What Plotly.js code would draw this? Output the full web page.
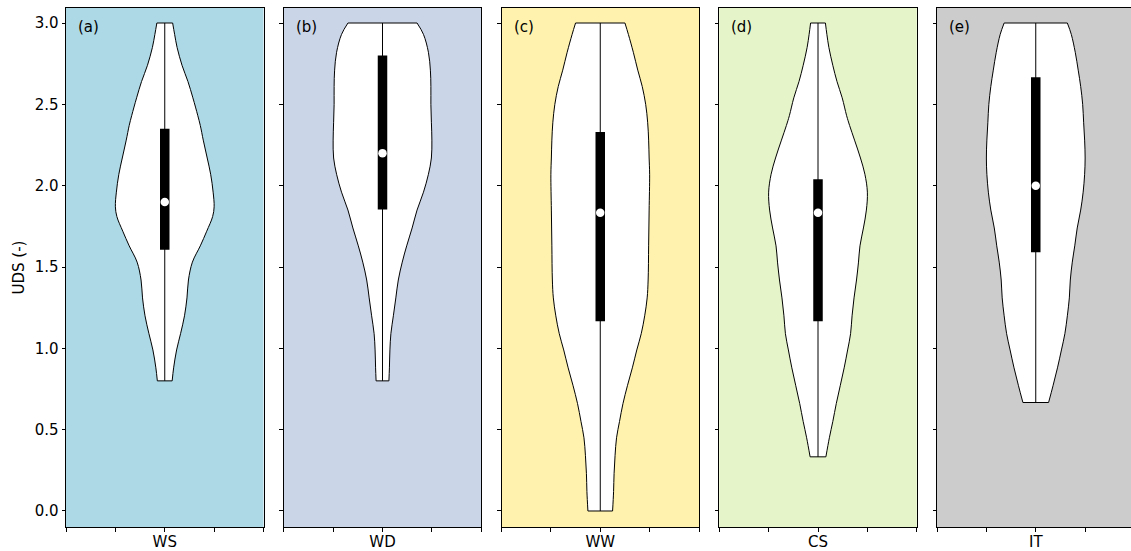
<!DOCTYPE html>
<html>
<head>
<meta charset="utf-8">
<script src="https://cdn.plot.ly/plotly-3.0.1.min.js"></script>
<style>html,body{margin:0;padding:0;background:#fff;}#chart{width:1131px;height:551px;}</style>
</head>
<body>
<div id="chart"></div>
<script>
// ---- data ----
const categories = ['WS', 'WD', 'WW', 'CS', 'IT'];
const panelLabels = ['(a)', '(b)', '(c)', '(d)', '(e)'];
const yTitle = 'UDS (-)';

// summary statistics (UDS)
const minVals = [0.80, 0.80, 0.00, 0.333, 0.667];
const maxVals = [3.00, 3.00, 3.00, 3.00, 3.00];
const q1Vals = [1.606, 1.854, 1.167, 1.167, 1.591];
const medianVals = [1.90, 2.20, 1.833, 1.833, 2.00];
const q3Vals = [2.35, 2.80, 2.33, 2.04, 2.666];

// kernel density profiles (UDS level -> relative density, max = 1)
const wsLevels = [3.0, 2.93, 2.85, 2.74, 2.64, 2.54, 2.43, 2.37, 2.28, 2.17, 2.07, 1.96, 1.87, 1.81, 1.72, 1.63, 1.53, 1.42, 1.31, 1.20, 1.09, 0.99, 0.88, 0.80];
const wsDensity = [0.16, 0.20, 0.25, 0.35, 0.47, 0.57, 0.67, 0.72, 0.78, 0.86, 0.93, 0.98, 1.0, 0.97, 0.85, 0.72, 0.56, 0.48, 0.45, 0.40, 0.32, 0.24, 0.18, 0.15];

const wdLevels = [3.0, 2.93, 2.82, 2.71, 2.61, 2.5, 2.39, 2.28, 2.17, 2.07, 1.96, 1.85, 1.74, 1.63, 1.53, 1.42, 1.31, 1.20, 1.09, 0.99, 0.88, 0.80];
const wdDensity = [0.70, 0.83, 0.93, 0.97, 0.98, 0.98, 0.99, 1.0, 0.99, 0.93, 0.83, 0.70, 0.60, 0.49, 0.40, 0.32, 0.27, 0.22, 0.17, 0.15, 0.14, 0.13];

const wwLevels = [3.0, 2.93, 2.82, 2.71, 2.61, 2.5, 2.39, 2.28, 2.17, 2.07, 1.85, 1.63, 1.42, 1.31, 1.20, 1.09, 0.99, 0.88, 0.77, 0.66, 0.55, 0.45, 0.34, 0.23, 0.12, 0.0];
const wwDensity = [0.50, 0.57, 0.67, 0.76, 0.85, 0.92, 0.96, 0.98, 0.99, 1.0, 0.99, 0.98, 0.97, 0.95, 0.90, 0.83, 0.74, 0.65, 0.55, 0.46, 0.39, 0.33, 0.30, 0.28, 0.27, 0.25];

const csLevels = [3.0, 2.93, 2.85, 2.74, 2.64, 2.54, 2.43, 2.37, 2.28, 2.17, 2.07, 1.96, 1.85, 1.74, 1.63, 1.53, 1.42, 1.31, 1.20, 1.09, 0.99, 0.88, 0.77, 0.66, 0.55, 0.45, 0.333];
const csDensity = [0.15, 0.18, 0.22, 0.30, 0.385, 0.49, 0.58, 0.64, 0.74, 0.86, 0.95, 1.0, 0.98, 0.92, 0.85, 0.82, 0.78, 0.73, 0.69, 0.66, 0.60, 0.53, 0.45, 0.37, 0.30, 0.23, 0.16];

const itLevels = [3.0, 2.93, 2.82, 2.71, 2.61, 2.5, 2.39, 2.28, 2.17, 2.07, 1.96, 1.85, 1.74, 1.63, 1.53, 1.42, 1.31, 1.20, 1.09, 0.99, 0.88, 0.77, 0.667];
const itDensity = [0.64, 0.72, 0.80, 0.86, 0.91, 0.95, 0.97, 0.99, 1.0, 0.99, 0.96, 0.91, 0.84, 0.79, 0.74, 0.70, 0.68, 0.64, 0.59, 0.52, 0.44, 0.35, 0.26];

const levelSets = [wsLevels, wdLevels, wwLevels, csLevels, itLevels];
const densitySets = [wsDensity, wdDensity, wwDensity, csDensity, itDensity];

// ---- styles ----
const bgColors = ['#add8e6', '#cbd5e8', '#fff2ae', '#e6f5c9', '#cccccc'];
const halfWidth = 0.25;   // violin max half-width in x units
const FONT = 'DejaVu Sans, Liberation Sans, sans-serif';
const FS = 15;

const W = 1131, H = 551;
const mL = 66, mR = 0, mT = 8, mB = 24;
const plotW = W - mL - mR;
const panelW = 197.5, panelStep = 217.75;

const traces = [];
const layout = {
  width: W, height: H,
  margin: {l: mL, r: mR, t: mT, b: mB, pad: 0},
  paper_bgcolor: '#ffffff',
  plot_bgcolor: 'rgba(0,0,0,0)',
  showlegend: false,
  font: {family: FONT, size: FS, color: '#000'},
  shapes: [],
  annotations: []
};

for (let i = 0; i < categories.length; i++) {
  const n = i === 0 ? '' : String(i + 1);
  const xa = 'x' + n, ya = 'y' + n;
  const lv = levelSets[i], dn = densitySets[i];
  const last = lv.length - 1;

  // left side of the violin
  traces.push({
    type: 'scatter', mode: 'lines', xaxis: xa, yaxis: ya,
    x: dn.map(d => -halfWidth * d), y: lv,
    line: {color: '#000', width: 1, shape: 'spline', smoothing: 1},
    hoverinfo: 'skip'
  });
  // right side, filled white towards the left side
  traces.push({
    type: 'scatter', mode: 'lines', xaxis: xa, yaxis: ya,
    x: dn.map(d => halfWidth * d), y: lv,
    fill: 'tonextx', fillcolor: '#ffffff',
    line: {color: '#000', width: 1, shape: 'spline', smoothing: 1},
    hoverinfo: 'skip'
  });
  // flat caps at max and min
  traces.push({
    type: 'scatter', mode: 'lines', xaxis: xa, yaxis: ya,
    x: [-halfWidth * dn[0], halfWidth * dn[0], null, -halfWidth * dn[last], halfWidth * dn[last]],
    y: [lv[0], lv[0], null, lv[last], lv[last]],
    line: {color: '#000', width: 1}, hoverinfo: 'skip'
  });
  // whisker (min to max)
  traces.push({
    type: 'scatter', mode: 'lines', x: [0, 0], y: [minVals[i], maxVals[i]],
    xaxis: xa, yaxis: ya, line: {color: '#000', width: 1}, hoverinfo: 'skip'
  });
  // interquartile box
  traces.push({
    type: 'scatter', mode: 'lines', x: [0, 0], y: [q1Vals[i], q3Vals[i]],
    xaxis: xa, yaxis: ya, line: {color: '#000', width: 9.5}, hoverinfo: 'skip'
  });
  // median
  traces.push({
    type: 'scatter', mode: 'markers', x: [0], y: [medianVals[i]],
    xaxis: xa, yaxis: ya, marker: {color: '#fff', size: 8.5, line: {width: 0}}, hoverinfo: 'skip'
  });

  const x0px = mL + i * panelStep;
  const x1px = Math.min(x0px + panelW, W - mR);
  const d0 = (x0px - mL) / plotW, d1 = (x1px - mL) / plotW;
  const xMax = -0.5 + (x1px - x0px) / panelW;

  layout['xaxis' + n] = {
    domain: [d0, d1], anchor: ya, range: [-0.5, xMax],
    tickmode: 'array', tickvals: [-0.5, -0.25, 0, 0.25, 0.5],
    ticktext: ['', '', categories[i], '', ''],
    ticks: 'outside', ticklen: 3.5, tickwidth: 1, tickcolor: '#000',
    ticklabelstandoff: -3,
    showline: true, mirror: true, linecolor: '#000', linewidth: 1,
    showgrid: false, zeroline: false, fixedrange: true,
    tickfont: {family: FONT, size: FS, color: '#000'}
  };
  const yax = {
    domain: [0, 1], anchor: xa, range: [-0.0984, 3.0922],
    tickmode: 'array', tickvals: [0, 0.5, 1, 1.5, 2, 2.5, 3],
    ticktext: ['0.0', '0.5', '1.0', '1.5', '2.0', '2.5', '3.0'],
    ticks: 'outside', ticklen: 3.5, tickwidth: 1, tickcolor: '#000',
    showline: true, mirror: true, linecolor: '#000', linewidth: 1,
    showgrid: false, zeroline: false, fixedrange: true,
    showticklabels: i === 0,
    tickfont: {family: FONT, size: FS, color: '#000'}
  };
  if (i === 0) {
    yax.title = {text: yTitle, font: {family: FONT, size: FS, color: '#000'}, standoff: 6};
  } else {
    yax.matches = 'y';
  }
  layout['yaxis' + n] = yax;

  layout.shapes.push({
    type: 'rect', xref: xa + ' domain', yref: ya + ' domain',
    x0: 0, x1: 1, y0: 0, y1: 1, layer: 'below',
    fillcolor: bgColors[i], line: {width: 0}
  });
  layout.annotations.push({
    text: panelLabels[i], xref: xa + ' domain', yref: ya + ' domain',
    x: 10 / panelW, y: 1 - 19 / (H - mT - mB), xanchor: 'left', yanchor: 'middle',
    showarrow: false, font: {family: FONT, size: FS, color: '#000'}
  });
}

Plotly.newPlot('chart', traces, layout, {displayModeBar: false, staticPlot: true});
</script>
</body>
</html>
